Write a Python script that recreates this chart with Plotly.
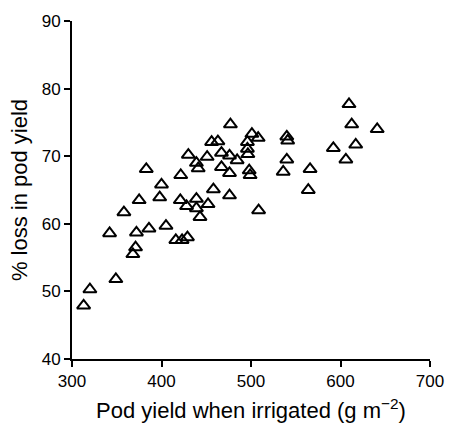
import plotly.graph_objects as go

pod_yield_irrigated = [313, 320, 349, 342, 372, 371, 368, 386, 405, 416, 423, 429, 443, 358,
                       375, 398, 400, 383, 421, 428, 439, 439, 452, 458, 476, 430, 421.5, 439,
                       441, 451, 456, 463, 467, 467, 476, 484.5, 476, 477, 496, 496, 496.5,
                       498, 499, 501, 508, 508.5, 540, 541, 540, 536, 566, 564, 592, 606,
                       609.5, 612.5, 617, 641]
pct_loss = [47.9, 50.3, 51.8, 58.6, 58.7, 56.5, 55.5, 59.3, 59.7, 57.6, 57.6, 58.0, 61.0, 61.7,
            63.5, 63.9, 65.8, 68.1, 63.5, 62.6, 63.7, 62.3, 62.9, 65.1, 64.2, 70.2, 67.2, 69.0,
            68.2, 69.9, 72.1, 72.2, 70.5, 68.4, 70.1, 69.4, 67.5, 74.7, 72.1, 71.1, 70.3,
            67.9, 67.2, 73.3, 72.7, 62.0, 72.9, 72.3, 69.5, 67.7, 68.1, 65.0, 71.2, 69.5,
            77.7, 74.7, 71.7, 74.0]
x_ticks = [300, 400, 500, 600, 700]
y_ticks = [40, 50, 60, 70, 80, 90]

FONT = "Liberation Sans, Arial, sans-serif"

fig = go.Figure()
fig.add_trace(go.Scatter(
    x=pod_yield_irrigated, y=pct_loss, mode="markers",
    marker=dict(symbol="triangle-up-open", size=11.5, color="black",
                line=dict(color="black", width=2)),
    showlegend=False, hoverinfo="x+y"))

axis_common = dict(showgrid=False, zeroline=False, showline=True, linecolor="black",
                   linewidth=2, ticks="outside", ticklen=6, tickwidth=1.8, tickcolor="black",
                   automargin=False,
                   tickfont=dict(family=FONT, size=17, color="black"))

fig.update_layout(
    width=454, height=428,
    margin=dict(l=72, r=24, t=21, b=69),
    paper_bgcolor="white", plot_bgcolor="white",
    xaxis=dict(range=[300, 700], tickvals=x_ticks, ticktext=[str(v) for v in x_ticks],
               title=dict(text="Pod yield when irrigated (g m<sup>\u22122</sup>)",
                          font=dict(family=FONT, size=22, color="black"), standoff=12),
               **axis_common),
    yaxis=dict(range=[40, 90], tickvals=y_ticks, ticktext=[str(v) for v in y_ticks],
               title=dict(text="% loss in pod yield",
                          font=dict(family=FONT, size=22, color="black"), standoff=8),
               **axis_common),
)

fig.write_html("out.html")
